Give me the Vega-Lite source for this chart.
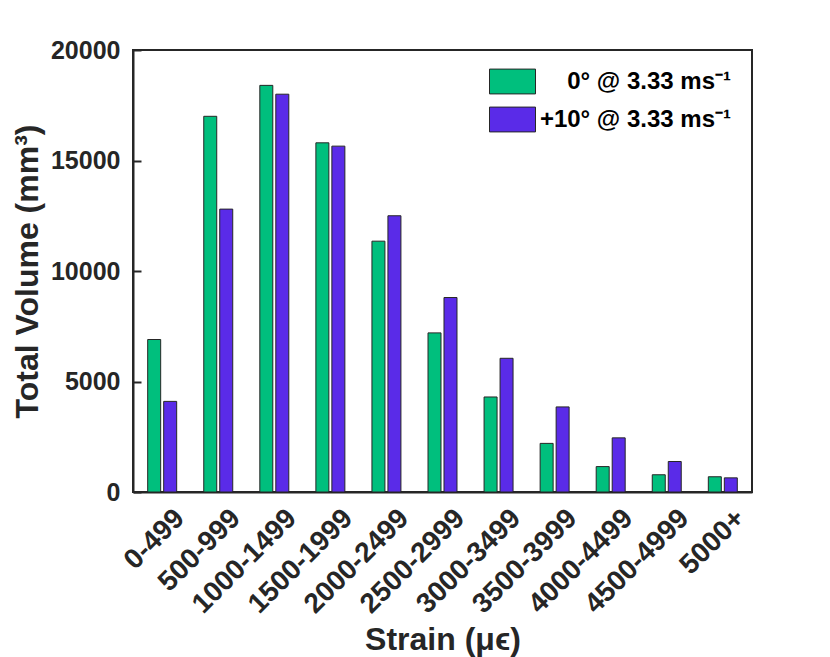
{
  "$schema": "https://vega.github.io/schema/vega-lite/v6.json",
  "width": 619,
  "height": 442,
  "autosize": {"type": "none"},
  "padding": {"left": 133, "top": 50, "right": 78, "bottom": 165},
  "background": "white",
  "config": {
    "font": "Liberation Sans",
    "view": {"stroke": "#262626", "strokeWidth": 2},
    "axis": {
      "labelFont": "Liberation Sans",
      "titleFont": "Liberation Sans",
      "labelFontWeight": "bold",
      "titleFontWeight": "bold",
      "labelColor": "#262626",
      "titleColor": "#262626",
      "domainColor": "#262626",
      "tickColor": "#262626",
      "grid": false
    }
  },
  "data": {
    "values": [
      {"strain": "0-499", "series": "0° @ 3.33 ms⁻¹", "volume": 6900},
      {"strain": "0-499", "series": "+10° @ 3.33 ms⁻¹", "volume": 4100},
      {"strain": "500-999", "series": "0° @ 3.33 ms⁻¹", "volume": 17000},
      {"strain": "500-999", "series": "+10° @ 3.33 ms⁻¹", "volume": 12800},
      {"strain": "1000-1499", "series": "0° @ 3.33 ms⁻¹", "volume": 18400},
      {"strain": "1000-1499", "series": "+10° @ 3.33 ms⁻¹", "volume": 18000},
      {"strain": "1500-1999", "series": "0° @ 3.33 ms⁻¹", "volume": 15800},
      {"strain": "1500-1999", "series": "+10° @ 3.33 ms⁻¹", "volume": 15650},
      {"strain": "2000-2499", "series": "0° @ 3.33 ms⁻¹", "volume": 11350},
      {"strain": "2000-2499", "series": "+10° @ 3.33 ms⁻¹", "volume": 12500},
      {"strain": "2500-2999", "series": "0° @ 3.33 ms⁻¹", "volume": 7200},
      {"strain": "2500-2999", "series": "+10° @ 3.33 ms⁻¹", "volume": 8800},
      {"strain": "3000-3499", "series": "0° @ 3.33 ms⁻¹", "volume": 4300},
      {"strain": "3000-3499", "series": "+10° @ 3.33 ms⁻¹", "volume": 6050},
      {"strain": "3500-3999", "series": "0° @ 3.33 ms⁻¹", "volume": 2200},
      {"strain": "3500-3999", "series": "+10° @ 3.33 ms⁻¹", "volume": 3850},
      {"strain": "4000-4499", "series": "0° @ 3.33 ms⁻¹", "volume": 1150},
      {"strain": "4000-4499", "series": "+10° @ 3.33 ms⁻¹", "volume": 2450},
      {"strain": "4500-4999", "series": "0° @ 3.33 ms⁻¹", "volume": 780},
      {"strain": "4500-4999", "series": "+10° @ 3.33 ms⁻¹", "volume": 1380},
      {"strain": "5000+", "series": "0° @ 3.33 ms⁻¹", "volume": 690},
      {"strain": "5000+", "series": "+10° @ 3.33 ms⁻¹", "volume": 640}
    ]
  },
  "mark": {"type": "bar", "stroke": "#262626", "strokeWidth": 1},
  "encoding": {
    "x": {
      "field": "strain",
      "type": "nominal",
      "sort": null,
      "scale": {"paddingInner": 0.483, "paddingOuter": 0.262},
      "axis": {
        "title": "Strain (μϵ)",
        "labelAngle": -45,
        "ticks": false,
        "labelFontSize": 28,
        "labelPadding": 12,
        "labelOffset": 8,
        "titleFontSize": 32,
        "titlePadding": 6,
        "domainWidth": 2
      }
    },
    "xOffset": {
      "field": "series",
      "scale": {"domain": ["0° @ 3.33 ms⁻¹", "+10° @ 3.33 ms⁻¹"], "paddingInner": 0.1875, "paddingOuter": 0}
    },
    "y": {
      "field": "volume",
      "type": "quantitative",
      "scale": {"domain": [0, 20000], "nice": false},
      "axis": {
        "title": "Total Volume (mm³)",
        "values": [0, 5000, 10000, 15000, 20000],
        "format": "d",
        "tickSize": -8,
        "tickWidth": 2,
        "labelFontSize": 25,
        "labelPadding": 21,
        "titleFontSize": 32,
        "titlePadding": 6,
        "domainWidth": 2
      }
    },
    "color": {
      "field": "series",
      "type": "nominal",
      "scale": {"domain": ["0° @ 3.33 ms⁻¹", "+10° @ 3.33 ms⁻¹"], "range": ["#00BF7D", "#5A2BE8"]},
      "legend": {
        "orient": "none",
        "legendX": 356,
        "legendY": 8,
        "title": null,
        "symbolType": "M-1,-0.54H1V0.54H-1Z",
        "symbolSize": 2116,
        "symbolStrokeColor": "#262626",
        "symbolStrokeWidth": 1,
        "symbolOpacity": 1,
        "labelFont": "Liberation Sans",
        "labelFontWeight": "bold",
        "labelFontSize": 24,
        "labelColor": "#000000",
        "labelLimit": 300,
        "labelAlign": "right",
        "labelOffset": 195,
        "rowPadding": -1
      }
    }
  }
}
